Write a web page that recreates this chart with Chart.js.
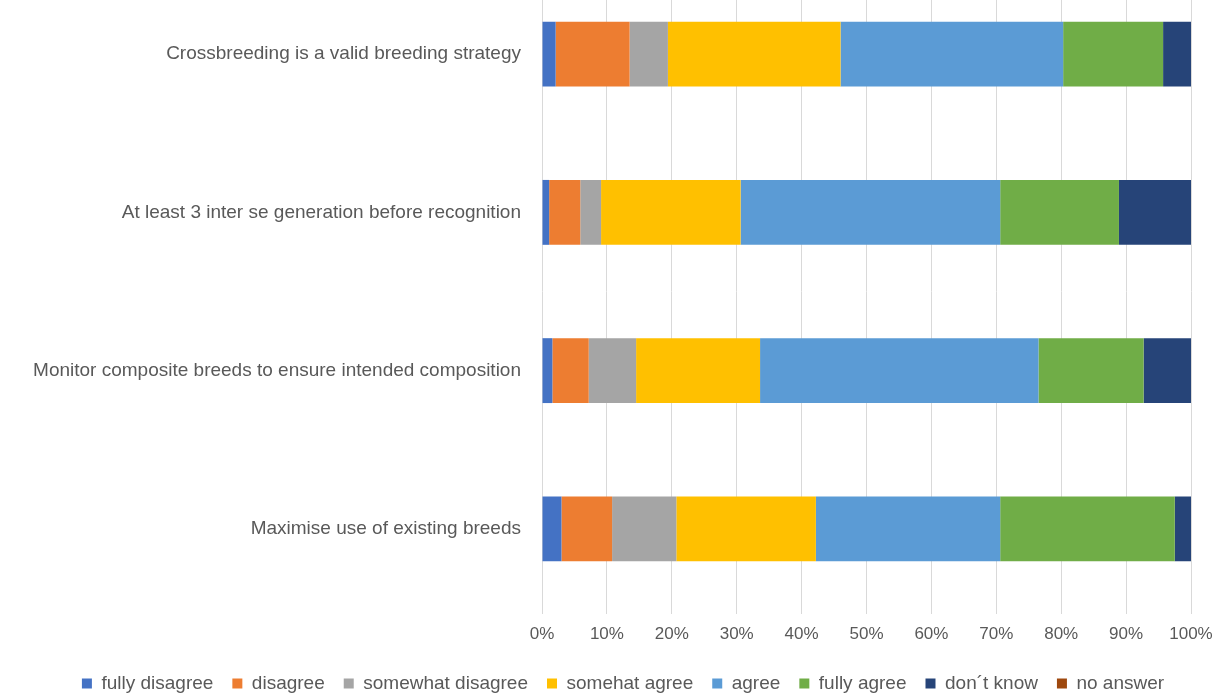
<!DOCTYPE html>
<html>
<head>
<meta charset="utf-8">
<script src="https://cdn.jsdelivr.net/npm/chart.js@4/dist/chart.umd.min.js"></script>
<style>
  html, body { margin: 0; padding: 0; background: #fff; overflow: hidden; }
  #wrap { position: relative; width: 1224px; height: 694px; overflow: hidden; }
  #chart { position: absolute; left: 0; top: -25px; }
</style>
</head>
<body>
<div id="wrap"><canvas id="chart" width="1224" height="728"></canvas></div>
<script>
// statements (top to bottom)
const statements = [
  'Crossbreeding is a valid breeding strategy',
  'At least 3 inter se generation before recognition',
  'Monitor composite breeds to ensure intended composition',
  'Maximise use of existing breeds'
];

// share of answers per statement, in %
const fullyDisagree    = [2.1, 1.1, 1.6, 3.0];
const disagree         = [11.4, 4.8, 5.6, 7.8];
const somewhatDisagree = [5.9, 3.2, 7.3, 9.9];
const somehatAgree     = [26.6, 21.5, 19.1, 21.5];
const agree            = [34.3, 40.0, 42.9, 28.4];
const fullyAgree       = [15.4, 18.3, 16.2, 26.9];
const dontKnow         = [4.3, 11.1, 7.3, 2.5];
const noAnswer         = [0, 0, 0, 0];

const xTicks = [0, 10, 20, 30, 40, 50, 60, 70, 80, 90, 100];

const series = [
  ['fully disagree', fullyDisagree, '#4472C4'],
  ['disagree', disagree, '#ED7D31'],
  ['somewhat disagree', somewhatDisagree, '#A5A5A5'],
  ['somehat agree', somehatAgree, '#FFC000'],
  ['agree', agree, '#5B9BD5'],
  ['fully agree', fullyAgree, '#70AD47'],
  ['don\u00b4t know', dontKnow, '#264478'],
  ['no answer', noAnswer, '#9E480E']
];

const FONT = "'Liberation Sans', sans-serif";
const GREY = '#595959';

new Chart(document.getElementById('chart'), {
  type: 'bar',
  data: {
    labels: statements,
    datasets: series.map(([label, data, color]) => ({
      label,
      data,
      backgroundColor: color,
      borderWidth: 0,
      barPercentage: 0.82,
      categoryPercentage: 0.5
    }))
  },
  options: {
    indexAxis: 'y',
    responsive: false,
    animation: false,
    layout: { padding: { left: 22, right: 0, top: 0, bottom: 0 } },
    plugins: {
      tooltip: { enabled: false },
      legend: {
        position: 'bottom',
        labels: {
          font: { family: FONT, size: 19 },
          color: GREY,
          boxWidth: 10,
          boxHeight: 10,
          padding: 19
        }
      }
    },
    scales: {
      x: {
        stacked: true,
        min: 0,
        max: 100,
        afterBuildTicks: (scale) => { scale.ticks = xTicks.map(v => ({ value: v })); },
        ticks: {
          callback: (v) => v + '%',
          font: { family: FONT, size: 17 },
          color: GREY,
          padding: 10
        },
        grid: { color: '#d9d9d9', lineWidth: 1, tickLength: 6 },
        border: { display: false },
        afterFit: (scale) => {
          scale.height = 47;
          scale.paddingLeft = 0;
          scale.paddingRight = 33;
        }
      },
      y: {
        stacked: true,
        ticks: {
          font: { family: FONT, size: 19 },
          color: GREY,
          padding: 13
        },
        grid: { display: false },
        border: { display: false },
        afterFit: (scale) => {
          scale.width = 520;
          scale.paddingTop = 0;
          scale.paddingBottom = 0;
        }
      }
    }
  }
});
</script>
</body>
</html>
